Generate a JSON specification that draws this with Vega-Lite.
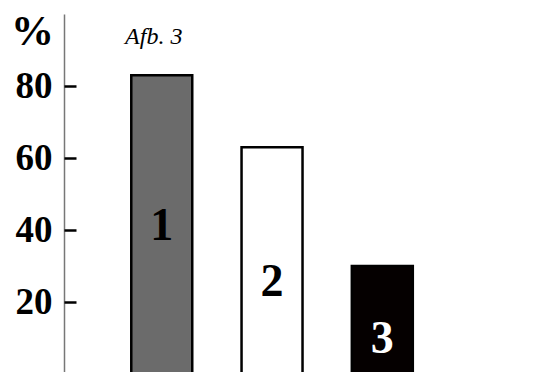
{
  "$schema": "https://vega.github.io/schema/vega-lite/v6.json",
  "width": 486,
  "height": 360,
  "autosize": {"type": "none"},
  "padding": {"left": 64, "top": 14, "right": 0, "bottom": 0},
  "background": "white",
  "config": {"view": {"stroke": null}},
  "data": {"values": [
    {"bar": "1", "value": 83},
    {"bar": "2", "value": 63},
    {"bar": "3", "value": 30}
  ]},
  "encoding": {
    "x": {"field": "bar", "type": "nominal", "axis": null,
      "scale": {"paddingInner": 0.447, "paddingOuter": 0.927, "align": 0.329}}
  },
  "resolve": {"axis": {"y": "independent"}},
  "layer": [
    {
      "mark": {"type": "bar", "stroke": "black", "strokeWidth": 2.5},
      "encoding": {
        "y": {"field": "value", "type": "quantitative",
          "scale": {"domain": [0, 100], "nice": false},
          "axis": {
            "orient": "left",
            "values": [20, 40, 60, 80],
            "grid": false,
            "domainColor": "#777777",
            "domainWidth": 1.5,
            "ticks": false,
            "labelPadding": 12,
            "labelFont": "Liberation Serif",
            "labelFontWeight": "bold",
            "labelFontSize": 37,
            "labelColor": "black",
            "title": "%",
            "titleAngle": 0,
            "titleX": -32,
            "titleY": 17,
            "titleAlign": "center",
            "titleBaseline": "middle",
            "titleFont": "Liberation Serif",
            "titleFontWeight": "bold",
            "titleFontSize": 43,
            "titleColor": "black"
          }
        },
        "fill": {"field": "bar", "type": "nominal", "legend": null,
          "scale": {"domain": ["1", "2", "3"], "range": ["#6b6b6b", "#ffffff", "#050000"]}}
      }
    },
    {
      "transform": [{"calculate": "0.00538 * datum.value * datum.value - 0.0155 * datum.value + 5.22", "as": "mid"}],
      "mark": {"type": "text", "font": "Liberation Serif", "fontWeight": "bold", "fontSize": 46, "baseline": "middle", "align": "center"},
      "encoding": {
        "y": {"field": "mid", "type": "quantitative",
          "axis": {
            "orient": "left",
            "values": [20, 40, 60, 80],
            "grid": false,
            "domain": false,
            "labels": false,
            "title": null,
            "offset": -12,
            "tickColor": "black",
            "tickWidth": 2.5,
            "tickSize": 12
          }
        },
        "text": {"field": "bar"},
        "color": {"field": "bar", "type": "nominal", "legend": null,
          "scale": {"domain": ["1", "2", "3"], "range": ["black", "black", "white"]}}
      }
    },
    {
      "data": {"values": [{"label": "Afb. 3", "bar": "1", "pos": 93.6}]},
      "mark": {"type": "text", "font": "Liberation Serif", "fontStyle": "italic", "fontSize": 24, "dx": -8, "baseline": "middle", "color": "black"},
      "encoding": {
        "y": {"field": "pos", "type": "quantitative", "axis": null},
        "text": {"field": "label"}
      }
    }
  ]
}
